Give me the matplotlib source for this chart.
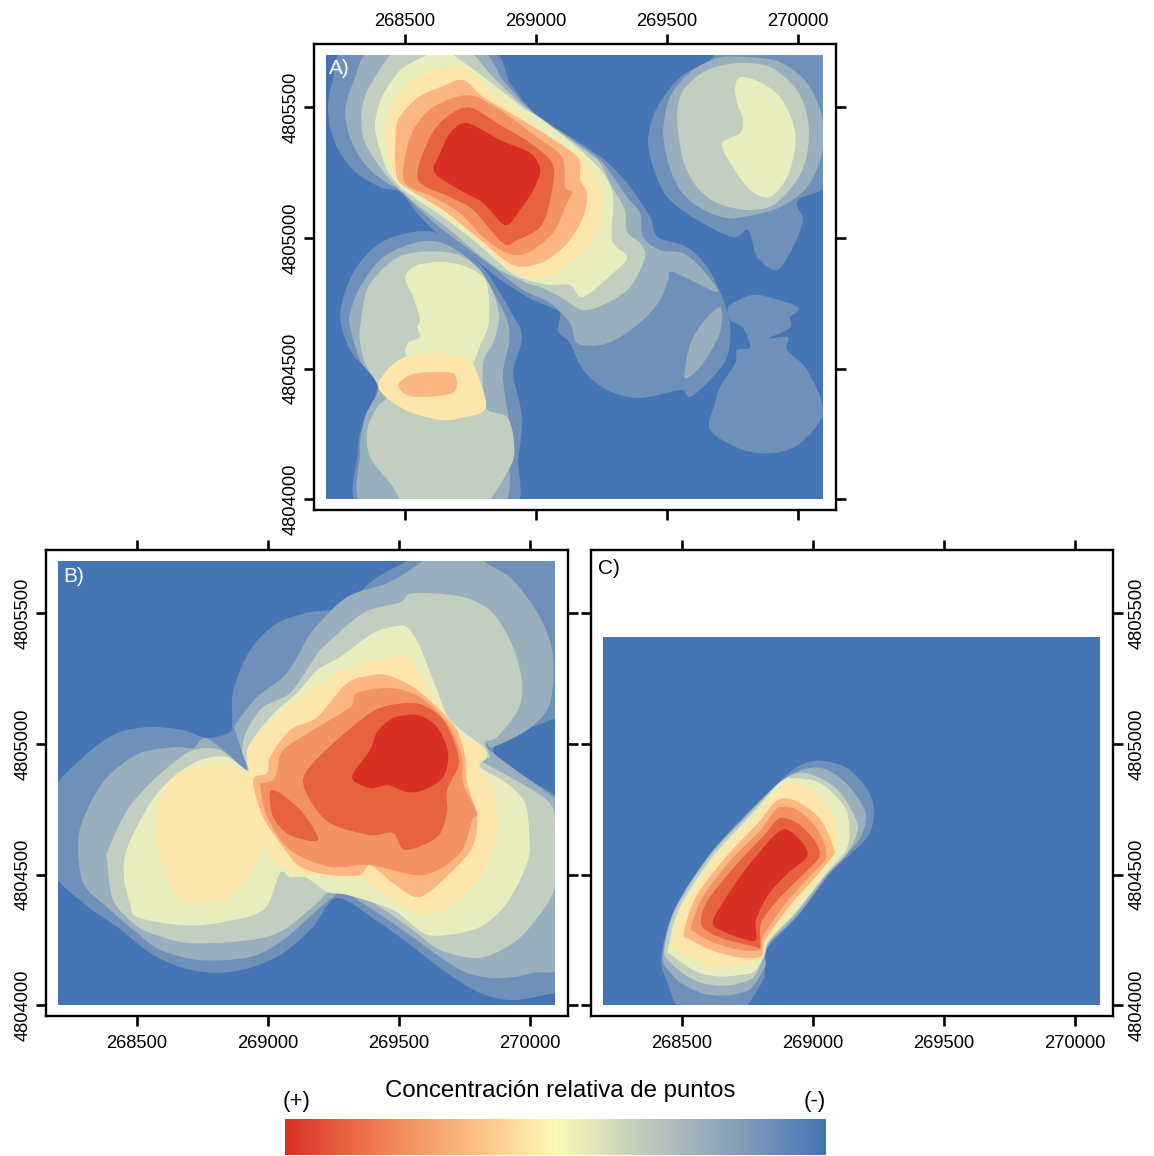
import matplotlib
matplotlib.use('Agg')
import matplotlib.pyplot as plt
import numpy as np
from matplotlib.colors import LinearSegmentedColormap
from matplotlib.patches import PathPatch, Rectangle
from matplotlib.path import Path

plt.rcParams['font.family'] = ['Liberation Sans', 'DejaVu Sans']

# Coordenadas UTM, en metros desde esta base
base_e = 268000
base_n = 4804000

x_ticks = [268500, 269000, 269500, 270000]
y_ticks = [4804000, 4804500, 4805000, 4805500]
mapa_e = (199, 2098)
mapa_n = (0, 1700)
mapa_n_c = (0, 1409)

colores = ['#4575b4', '#6f90b9', '#9aafbd', '#c2cebf', '#e8edbd', '#fde6ab', '#fbb682', '#f39363', '#e7623f', '#d93026']

barra_colores = ['#d93026', '#ec6a45', '#f59b68', '#fcc98a', '#fdf9b6', '#cdd6bb', '#a2b5bb', '#7895b8', '#4575b4']

# Panel A
a1_diag = [(301,1739),(221,1593),(206,1478),(233,1363),(301,1260),(404,1195),(481,1176),(546,1095),(622,1019),(737,942),(851,850),(966,774),(1054,735),(1092,712),(1084,643),(1130,597),(1180,494),(1272,417),(1398,387),(1551,417),(1589,391),(1665,456),(1730,544),(1742,659),(1711,774),(1654,889),(1577,965),(1466,1003),(1436,1080),(1360,1195),(1272,1291),(1169,1363),(1016,1463),(966,1509),(901,1593),(798,1739)]
a2_diag = [(393,1739),(301,1593),(271,1478),(298,1363),(355,1272),(431,1210),(481,1183),(557,1107),(645,1030),(748,954),(851,877),(951,800),(1054,751),(1130,674),(1157,597),(1245,590),(1321,620),(1409,686),(1474,762),(1505,839),(1524,869),(1692,793),(1638,877),(1562,942),(1474,954),(1409,1003),(1398,1095),(1348,1157),(1256,1287),(1169,1356),(1016,1459),(951,1517),(874,1605),(760,1739)]
a3_diag = [(492,1739),(378,1605),(336,1501),(340,1386),(385,1298),(443,1222),(481,1183),(557,1118),(672,1030),(775,942),(863,877),(966,827),(1016,812),(1092,774),(1180,724),(1272,751),(1360,812),(1417,927),(1398,980),(1348,1023),(1340,1107),(1291,1195),(1245,1287),(1169,1348),(1016,1459),(939,1517),(836,1616),(710,1739)]
a4_diag = [(645,1720),(569,1693),(481,1643),(412,1540),(385,1440),(397,1363),(431,1260),(481,1195),(531,1157),(645,1080),(775,980),(901,869),(966,839),(1054,820),(1130,820),(1180,774),(1295,866),(1348,927),(1291,992),(1295,1157),(1256,1249),(1169,1337),(1016,1459),(951,1498),(851,1578),(722,1674)]
a5_diag = [(737,1651),(672,1655),(546,1616),(450,1517),(424,1386),(443,1272),(481,1210),(531,1183),(645,1095),(775,992),(901,877),(966,850),(1081,866),(1195,965),(1245,1057),(1253,1157),(1226,1233),(1169,1310),(1054,1386),(951,1471),(851,1540)]
a6_diag = [(722,1605),(634,1578),(546,1536),(473,1452),(462,1348),(462,1287),(473,1222),(519,1183),(645,1107),(775,1003),(913,896),(1027,908),(1119,980),(1180,1080),(1195,1172),(1169,1222),(1161,1306),(1054,1386),(928,1463),(798,1540)]
a7_diag = [(741,1547),(607,1501),(531,1413),(500,1310),(500,1210),(607,1157),(710,1095),(798,1003),(890,942),(966,942),(1065,1019),(1111,1118),(1138,1176),(1111,1195),(1100,1310),(1004,1386),(863,1490)]
a8_diag = [(741,1501),(645,1452),(584,1363),(550,1222),(672,1157),(760,1107),(874,980),(928,992),(1016,1042),(1054,1145),(1065,1279),(978,1363),(851,1440)]
a9_diag = [(737,1440),(672,1402),(634,1325),(611,1252),(710,1183),(798,1134),(882,1049),(939,1107),(989,1183),(1016,1260),(978,1325),(863,1375)]

a1_sur = [(508,1019),(393,973),(301,866),(252,712),(290,571),(393,437),(347,314),(320,188),(347,-61),(890,-61),(932,161),(947,314),(913,483),(947,620),(901,724),(813,866),(737,942),(622,1019)]
a2_sur = [(290,712),(328,812),(416,927),(546,984),(645,980),(748,915),(825,812),(890,686),(897,597),(874,483),(890,341),(916,214),(901,138),(844,-42),(359,-42),(328,176),(347,314),(397,429),(328,532),(290,659)]
a3_sur = [(328,659),(359,812),(454,915),(546,946),(683,942),(775,889),(832,800),(859,697),(836,597),(798,521),(809,352),(890,314),(916,214),(901,123),(775,-42),(531,-42),(443,61),(366,161),(355,264),(393,352),(427,387),(397,437),(347,521),(328,597)]
a4_sur = [(500,850),(546,896),(645,908),(737,889),(806,839),(821,751),(817,659),(790,597),(760,521),(737,540),(519,544),(511,597),(557,620),(546,659),(557,686),(531,774)]
a5_sur = [(397,437),(443,506),(519,552),(645,559),(737,540),(760,521),(809,352),(710,310),(634,303),(519,333),(431,387)]
a6_sur = [(473,437),(519,475),(595,486),(687,479),(687,410),(584,391),(508,398)]

a1_ne = [(1428,1386),(1463,1501),(1551,1616),(1654,1674),(1742,1720),(2143,1739),(2143,1249),(2001,1145),(2020,1069),(1982,965),(1921,877),(1845,927),(1810,1030),(1753,1003),(1615,1069),(1501,1157),(1447,1272)]
a2_ne = [(1486,1413),(1512,1540),(1589,1635),(1692,1689),(1806,1693),(1932,1674),(2036,1593),(2093,1463),(2093,1325),(2036,1195),(1932,1118),(1829,1088),(1730,1076),(1627,1115),(1551,1183),(1505,1287)]
a3_ne = [(1539,1463),(1562,1566),(1654,1643),(1768,1670),(1894,1655),(1997,1566),(2039,1452),(2036,1325),(1997,1222),(1906,1126),(1806,1107),(1692,1134),(1615,1195),(1562,1298)]
a4_ne = [(1780,1616),(1856,1597),(1932,1540),(1982,1440),(1990,1348),(1959,1233),(1894,1157),(1818,1183),(1742,1287),(1711,1363),(1780,1402),(1791,1452),(1768,1517),(1761,1578)]

a2_lente = [(1703,735),(1654,697),(1600,620),(1577,544),(1570,463),(1627,506),(1692,609),(1711,686)]
a1_se = [(1734,735),(1791,770),(1856,781),(2001,735),(1971,697),(1971,655),(1894,617),(1963,620),(1959,571),(2036,494),(2097,333),(2009,214),(1906,176),(1791,188),(1665,264),(1684,368),(1703,429),(1761,521),(1768,571),(1818,582),(1791,655),(1742,686)]

# Panel B
b1 = [(168,529),(168,797),(294,950),(424,1042),(550,1065),(676,1053),(767,1023),(855,1046),(863,1092),(867,1206),(932,1360),(1035,1463),(1161,1505),(1287,1524),(1402,1628),(1531,1701),(1638,1762),(2135,1762),(2135,1122),(2097,1099),(1860,977),(2097,804),(2135,785),(2135,50),(2097,46),(1936,19),(1810,46),(1684,123),(1554,222),(1428,314),(1264,410),(1172,299),(1058,199),(932,142),(806,123),(676,142),(550,199),(424,299),(294,391)]
b2 = [(275,632),(294,467),(397,364),(500,276),(588,211),(741,172),(932,184),(1058,249),(1188,364),(1249,414),(1287,433),(1402,364),(1531,276),(1657,184),(1761,123),(1875,103),(2013,123),(2135,192),(2135,785),(2097,793),(1860,965),(1837,1003),(1860,988),(1990,1053),(2066,1130),(2089,1233),(2085,1360),(2039,1486),(1936,1628),(1822,1701),(1753,1762),(1657,1762),(1581,1693),(1455,1616),(1302,1563),(1172,1436),(1111,1333),(1058,1256),(958,1180),(882,1084),(874,1053),(920,900),(844,965),(760,1023),(714,984),(653,988),(511,965),(385,873),(309,747)]
b3 = [(385,555),(408,402),(485,314),(550,276),(702,237),(932,249),(1058,287),(1188,391),(1226,429),(1302,448),(1428,375),(1554,287),(1657,211),(1799,180),(1913,222),(2001,299),(2097,452),(2097,659),(2066,785),(1810,938),(1848,950),(1829,1007),(1875,1026),(1955,1130),(1971,1233),(1936,1371),(1860,1501),(1745,1563),(1554,1578),(1505,1543),(1363,1501),(1211,1371),(1172,1321),(1084,1195),(981,1141),(920,1053),(901,977),(920,900),(817,977),(714,977),(638,927),(550,850),(462,747),(389,594)]
b4 = [(450,490),(473,391),(500,337),(664,306),(806,314),(981,364),(1046,506),(1084,490),(1149,486),(1226,433),(1306,421),(1478,364),(1593,276),(1684,268),(1810,299),(1913,391),(1994,555),(1997,670),(1982,774),(1913,850),(1810,912),(1837,950),(1822,988),(1696,1092),(1646,1206),(1581,1371),(1535,1444),(1493,1452),(1402,1425),(1275,1333),(1188,1283),(1111,1195),(1035,1130),(958,1042),(924,977),(932,892),(844,950),(741,938),(638,873),(550,774),(462,601)]
b5_oeste = [(569,682),(595,812),(676,900),(844,919),(932,862),(981,774),(981,643),(958,544),(855,414),(691,391),(638,440),(576,594)]
b5 = [(920,977),(970,1042),(1058,1130),(1161,1206),(1275,1275),(1417,1321),(1531,1333),(1581,1272),(1657,1141),(1707,1065),(1761,1015),(1822,988),(1822,938),(1799,912),(1860,823),(1875,682),(1860,594),(1799,467),(1684,375),(1581,345),(1478,402),(1363,479),(1295,486),(1172,498),(1058,525),(989,613),(932,869)]
b6 = [(943,862),(997,889),(1008,950),(1084,1053),(1188,1103),(1302,1233),(1402,1264),(1466,1260),(1554,1218),(1646,1141),(1722,1053),(1753,950),(1761,850),(1799,720),(1780,605),(1707,517),(1581,414),(1478,467),(1390,536),(1352,498),(1237,498),(1123,529),(1058,605),(981,720)]
b7 = [(970,842),(981,850),(1020,862),(1035,900),(1058,977),(1172,1053),(1314,1141),(1340,1195),(1466,1214),(1581,1180),(1684,1080),(1741,950),(1745,850),(1799,735),(1780,709),(1734,582),(1593,498),(1390,536),(1237,529),(1084,594),(997,720)]
b8_lente = [(1008,816),(1046,812),(1134,735),(1191,632),(1084,651),(1020,720)]
b8 = [(1134,862),(1172,927),(1275,1026),(1390,1118),(1466,1149),(1581,1153),(1669,1092),(1722,977),(1726,912),(1684,823),(1684,739),(1646,643),(1524,594),(1478,659),(1390,651),(1237,697),(1161,785)]
b9 = [(1321,873),(1390,977),(1417,1046),(1478,1099),(1570,1111),(1646,1065),(1688,965),(1669,873),(1593,823),(1531,816),(1459,842),(1390,831)]

# Panel C
c1 = [(420,185),(470,364),(598,568),(750,734),(878,862),(954,920),(1030,936),(1132,907),(1209,824),(1234,734),(1209,645),(1132,568),(1056,492),(941,339),(839,236),(814,185),(814,109),(763,19),(712,-32),(509,-32),(445,83)]
c2 = [(426,185),(470,364),(604,575),(757,741),(884,862),(980,907),(1056,900),(1139,837),(1202,734),(1183,645),(1132,581),(1056,498),(941,345),(839,243),(817,185),(817,147),(763,64),(706,42),(649,36),(585,42),(534,64),(489,89),(458,121)]
c3 = [(432,211),(477,370),(604,568),(757,734),(878,856),(954,890),(1030,868),(1107,811),(1170,696),(1158,632),(1120,568),(1050,498),(935,351),(833,243),(811,185),(776,109),(719,83),(649,74),(579,83),(521,109),(458,160)]
c4 = [(445,211),(489,370),(617,568),(769,734),(878,856),(941,868),(1030,849),(1120,760),(1139,671),(1126,594),(1050,504),(935,358),(833,249),(811,185),(776,128),(719,115),(649,109),(579,119),(521,147),(451,198)]
c5 = [(458,243),(502,377),(629,568),(782,728),(878,837),(967,837),(1056,760),(1094,658),(1081,594),(1037,511),(922,364),(824,249),(801,185),(750,160),(649,147),(579,157),(521,185),(464,224)]
c6 = [(506,275),(553,415),(668,568),(789,696),(865,785),(941,779),(1030,709),(1081,594),(1069,562),(1005,485),(903,370),(814,243),(801,185),(712,183),(610,211),(534,249)]
c7 = [(534,300),(579,415),(687,556),(801,671),(865,754),(941,747),(1018,671),(1050,568),(980,485),(890,383),(808,262),(795,211),(699,215),(598,249),(547,281)]
c8 = [(572,313),(598,402),(712,543),(814,651),(871,715),(941,696),(1005,632),(1024,568),(954,492),(865,402),(801,313),(799,224),(776,224),(674,249),(610,275)]
c9 = [(617,319),(687,441),(776,562),(890,673),(980,581),(903,504),(833,428),(782,326),(782,249),(725,256),(661,281)]

panel_a = [(1, a1_diag), (1, a1_sur), (1, a1_ne), (1, a1_se), (2, a2_diag), (2, a2_sur), (2, a2_ne), (2, a2_lente),
           (3, a3_diag), (3, a3_sur), (3, a3_ne), (4, a4_diag), (4, a4_sur), (4, a4_ne),
           (5, a5_diag), (5, a5_sur), (6, a6_diag), (6, a6_sur), (7, a7_diag), (8, a8_diag), (9, a9_diag)]
panel_b = [(1, b1), (2, b2), (3, b3), (4, b4), (5, b5_oeste), (5, b5), (6, b6), (7, b7), (8, b8_lente), (8, b8), (9, b9)]
panel_c = [(1, c1), (2, c2), (3, c3), (4, c4), (5, c5), (6, c6), (7, c7), (8, c8), (9, c9)]


def forma(puntos):
    # contorno cerrado que pasa por cada punto digitalizado
    pts = np.array(puntos, dtype=float) + [base_e, base_n]
    tang = (np.roll(pts, -1, axis=0) - np.roll(pts, 1, axis=0)) / 6.5
    verts = [pts[0]]
    codes = [Path.MOVETO]
    n = len(pts)
    for i in range(n):
        j = (i + 1) % n
        verts += [pts[i] + tang[i], pts[j] - tang[j], pts[j]]
        codes += [Path.CURVE4, Path.CURVE4, Path.CURVE4]
    return Path(verts, codes)


def panel(pos, bandas, letra, letra_pos, color_letra, lim_n, abajo, izquierda):
    l, t, r, b = pos
    ax = fig.add_axes([l / W, 1 - b / H, (r - l) / W, (b - t) / H])
    ax.set_xlim(268152, 270146)
    ax.set_ylim(4803958, 4805743)

    fondo = Rectangle((base_e + mapa_e[0], base_n + lim_n[0]), mapa_e[1] - mapa_e[0], lim_n[1] - lim_n[0],
                      facecolor=colores[0], edgecolor='none', zorder=1)
    ax.add_patch(fondo)
    for nivel, puntos in bandas:
        p = PathPatch(forma(puntos), facecolor=colores[nivel], edgecolor='none', zorder=2)
        ax.add_patch(p)
        p.set_clip_path(fondo)

    ax.set_xticks(x_ticks)
    ax.set_xticklabels([str(v) for v in x_ticks])
    ax.set_yticks(y_ticks)
    ax.set_yticklabels([str(v) for v in y_ticks], rotation=90, va='center')
    ax.tick_params(axis='both', direction='out', length=7.5, width=1.9, labelsize=13.2, color='black',
                   top=True, bottom=True, left=True, right=True,
                   labeltop=not abajo, labelbottom=abajo, labelleft=izquierda, labelright=not izquierda)
    ax.tick_params(axis='x', pad=6 if abajo else 2.5)
    ax.tick_params(axis='y', pad=2.5 if izquierda else 4)
    for s in ax.spines.values():
        s.set_linewidth(1.7)
    fig.text(letra_pos[0] / W, 1 - letra_pos[1] / H, letra, color=color_letra, fontsize=15, ha='left', va='center', zorder=5)
    return ax


W, H = 1154, 1156
fig = plt.figure(figsize=(W / 100, H / 100), dpi=100, facecolor='white')

panel((314, 44, 836, 510), panel_a, 'A)', (329, 68), 'white', mapa_n, False, True)
panel((46, 550, 568, 1016), panel_b, 'B)', (63, 577), 'white', mapa_n, True, True)
panel((591, 550, 1113, 1016), panel_c, 'C)', (598, 568), 'black', mapa_n_c, True, False)

cax = fig.add_axes([285 / W, 1 - 1155 / H, 541 / W, 36 / H])
cmap = LinearSegmentedColormap.from_list('concentracion', barra_colores)
cax.imshow(np.linspace(0, 1, 541).reshape(1, -1), cmap=cmap, aspect='auto')
cax.axis('off')

fig.text(560.5 / W, 1 - 1091 / H, 'Concentración relativa de puntos', fontsize=17.3, ha='center', va='center')
fig.text(297 / W, 1 - 1102 / H, '(+)', fontsize=16, ha='center', va='center')
fig.text(815 / W, 1 - 1102 / H, '(-)', fontsize=16, ha='center', va='center')

plt.savefig('out.png', dpi=100)
